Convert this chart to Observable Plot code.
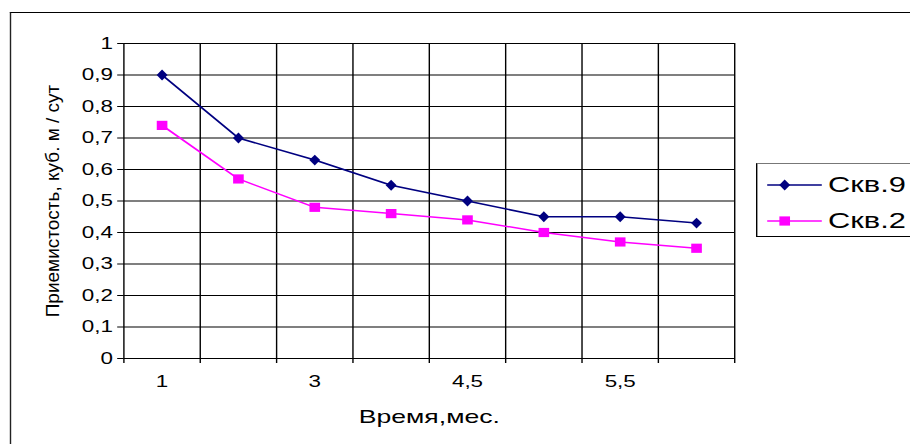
<!DOCTYPE html>
<html><head><meta charset="utf-8">
<script src="https://cdn.jsdelivr.net/npm/d3@7"></script>
<script src="https://cdn.jsdelivr.net/npm/@observablehq/plot@0.6"></script>
<style>
html,body{margin:0;padding:0;background:#fff;overflow:hidden;width:910px;height:444px;}
#wrap{position:absolute;left:0;top:0;width:650px;height:444px;transform:scaleX(1.4);transform-origin:0 0;font-family:"Liberation Sans",Arial,sans-serif;}
#frame{position:absolute;left:7px;top:12px;width:700px;height:500px;border-left:1.6px solid #222;border-top:1px solid #000;}
#chart{position:absolute;left:0;top:0;}
#legend{position:absolute;left:539.5px;top:163px;width:140px;height:72px;border:1px solid #000;border-top-color:#777;background:#fff;}
#legend .row{position:absolute;left:0;height:30px;display:flex;align-items:center;font-size:22px;color:#000;white-space:nowrap;}
#legend svg{display:block;}
#ylabel{position:absolute;left:53px;top:200.5px;transform:translate(-50%,-50%) rotate(-90deg);white-space:nowrap;font:19px "Liberation Sans",Arial,sans-serif;color:#000;}
</style></head><body>
<div id="wrap"><div id="frame"></div><div id="chart"></div><div id="legend"></div></div>
<div id="ylabel"></div>
<script>
// ---- data ----
const xLabels = ["1", "", "3", "", "4,5", "", "5,5", ""];
const seriesNames = ["Скв.9", "Скв.2"];
const skv9 = [0.90, 0.70, 0.63, 0.55, 0.50, 0.45, 0.45, 0.43];
const skv2 = [0.74, 0.57, 0.48, 0.46, 0.44, 0.40, 0.37, 0.35];
const seriesColors = ["#000080", "#FF00FF"];
const yTicks = [0, 0.1, 0.2, 0.3, 0.4, 0.5, 0.6, 0.7, 0.8, 0.9, 1];
const yTickLabels = ["0", "0,1", "0,2", "0,3", "0,4", "0,5", "0,6", "0,7", "0,8", "0,9", "1"];
const xTitle = "Время,мес.";
const yTitle = "Приемистость, куб. м / сут";

// ---- build ----
const n = xLabels.length;
const seriesValues = [skv9, skv2];
const rows = seriesNames.flatMap((s, k) => seriesValues[k].map((v, i) => ({series: s, x: i + 0.5, y: v})));

const diamondSym = {draw(ctx) { ctx.moveTo(0, -5.4); ctx.lineTo(3.9, 0); ctx.lineTo(0, 5.4); ctx.lineTo(-3.9, 0); ctx.closePath(); }};
const squareSym = {draw(ctx) { ctx.moveTo(-3.8, -4.6); ctx.lineTo(3.8, -4.6); ctx.lineTo(3.8, 4.6); ctx.lineTo(-3.8, 4.6); ctx.closePath(); }};
const symbols = [diamondSym, squareSym];

const chart = Plot.plot({
  width: 650, height: 444,
  marginLeft: 88, marginRight: 125.7, marginTop: 43, marginBottom: 86,
  style: {fontFamily: "Liberation Sans, Arial, sans-serif", fontSize: "16px", color: "#000", background: "transparent", overflow: "visible"},
  x: {domain: [0, n], ticks: d3.range(0, n + 1), tickSize: 5, tickFormat: () => "", label: null},
  y: {domain: [0, 1], ticks: yTicks, tickSize: 4.3, tickPadding: 3.5, tickFormat: d => yTickLabels[yTicks.findIndex(t => Math.abs(t - d) < 1e-9)], label: null},
  color: {domain: seriesNames, range: seriesColors},
  marks: [
    Plot.ruleY(yTicks.filter(d => d > 0), {stroke: "#000", strokeWidth: 1}),
    Plot.ruleX(d3.range(1, n + 1), {stroke: "#000", strokeWidth: 1}),
    Plot.ruleX([0], {stroke: "#000", strokeWidth: 1}),
    Plot.ruleY([0], {stroke: "#000", strokeWidth: 1}),
    Plot.line(rows, {x: "x", y: "y", z: "series", stroke: "series", strokeWidth: 1.5}),
    ...seriesNames.map((s, k) => Plot.dot(rows.filter(d => d.series === s), {x: "x", y: "y", symbol: symbols[k], fill: seriesColors[k], stroke: "none"})),
    Plot.text(xLabels, {x: (d, i) => i + 0.5, text: d => d, frameAnchor: "bottom", dy: 28, fontSize: 16, fill: "#000"}),
    Plot.text([xTitle], {frameAnchor: "bottom", dy: 64, fontSize: 19, fill: "#000"})
  ]
});
document.getElementById("chart").appendChild(chart);

// legend
const legend = document.getElementById("legend");
const rowCenters = [21, 57];
seriesNames.forEach((s, k) => {
  const row = document.createElement("div");
  row.className = "row";
  row.style.top = (rowCenters[k] - 15) + "px";
  const marker = k === 0
    ? `<path d="M19.5,${15-5.4}L23.4,15L19.5,${15+5.4}L15.6,15Z" fill="${seriesColors[k]}"/>`
    : `<rect x="15.7" y="${15-4.6}" width="7.6" height="9.2" fill="${seriesColors[k]}"/>`;
  row.innerHTML = `<svg width="51" height="30"><line x1="7" x2="46" y1="15" y2="15" stroke="${seriesColors[k]}" stroke-width="1.5"/>${marker}</svg><span>${s}</span>`;
  legend.appendChild(row);
});
document.getElementById("ylabel").textContent = yTitle;
</script>
</body></html>
